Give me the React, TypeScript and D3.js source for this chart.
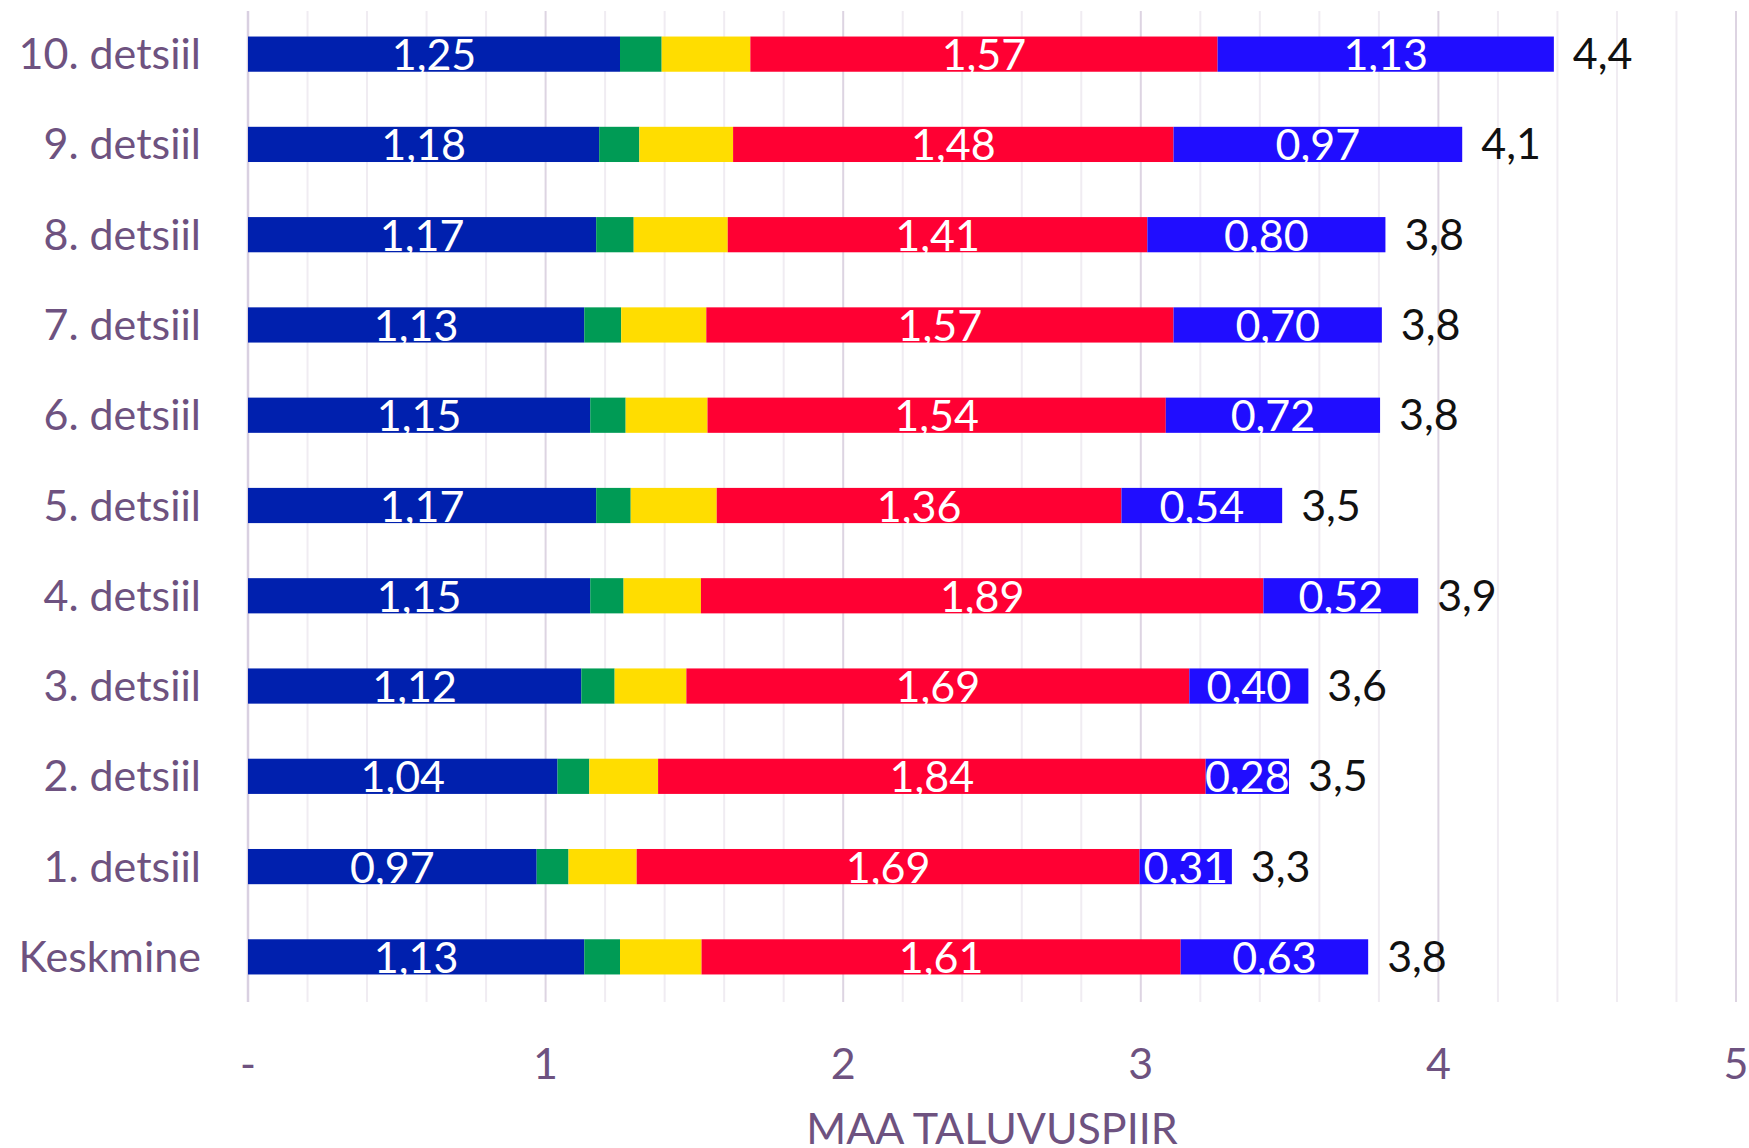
import * as d3 from "d3";

const width = 1749;
const height = 1148;
const margin = { top: 9, right: 13, bottom: 146, left: 248 };

const categories = [
  "10. detsiil",
  "9. detsiil",
  "8. detsiil",
  "7. detsiil",
  "6. detsiil",
  "5. detsiil",
  "4. detsiil",
  "3. detsiil",
  "2. detsiil",
  "1. detsiil",
  "Keskmine",
];
const darkBlue = [1.25, 1.18, 1.17, 1.13, 1.15, 1.17, 1.15, 1.12, 1.04, 0.97, 1.13];
const green = [0.14, 0.135, 0.126, 0.124, 0.119, 0.116, 0.112, 0.112, 0.107, 0.107, 0.12];
const yellow = [0.298, 0.315, 0.316, 0.286, 0.275, 0.289, 0.26, 0.241, 0.231, 0.229, 0.274];
const red = [1.57, 1.48, 1.41, 1.57, 1.54, 1.36, 1.89, 1.69, 1.84, 1.69, 1.61];
const blue = [1.13, 0.97, 0.8, 0.7, 0.72, 0.54, 0.52, 0.4, 0.28, 0.31, 0.63];
const totals = ["4,4", "4,1", "3,8", "3,8", "3,8", "3,5", "3,9", "3,6", "3,5", "3,3", "3,8"];
const xTicks = [0, 1, 2, 3, 4, 5];
const xTickLabels = ["-", "1", "2", "3", "4", "5"];

const series = [
  { key: "darkBlue", values: darkBlue, color: "#0020ae", label: true },
  { key: "green", values: green, color: "#009b55", label: false },
  { key: "yellow", values: yellow, color: "#ffdd00", label: false },
  { key: "red", values: red, color: "#ff0033", label: true },
  { key: "blue", values: blue, color: "#200dff", label: true },
];

const textColor = "#6e5280";
const font = "Lato, 'Open Sans', sans-serif";
const fmt = d3
  .formatLocale({ decimal: ",", thousands: " ", grouping: [3], currency: ["", ""] })
  .format(".2f");

const x = d3
  .scaleLinear()
  .domain([0, 5])
  .range([margin.left, width - margin.right]);
const y = d3
  .scaleBand()
  .domain(categories)
  .range([margin.top, height - margin.bottom]);
const barH = y.bandwidth() * 0.39;

const minor = d3.range(1, 26).map((i) => i * 0.2);

const rows = categories.map((c, i) => {
  let acc = 0;
  const segs = series.map((s) => {
    const x0 = acc;
    acc += s.values[i];
    return { ...s, x0, x1: acc, v: s.values[i] };
  });
  return { c, i, segs, end: acc };
});

const App = () => {
  return (
    <svg
      width={width}
      height={height}
      viewBox={`0 0 ${width} ${height}`}
      style={{ position: "absolute", left: 0, top: 0, fontFamily: font }}
    >
      <rect width={width} height={height} fill="#fff" />
      {/* gridlines */}
      {minor.map((d) => (
        <line
          key={d}
          x1={x(d)}
          x2={x(d)}
          y1={margin.top + 2}
          y2={height - margin.bottom}
          stroke={Math.abs(d - Math.round(d)) < 1e-6 ? "#ddd4e2" : "#f0ecf2"}
          strokeWidth={2}
        />
      ))}
      <line
        x1={x(0)}
        x2={x(0)}
        y1={margin.top + 2}
        y2={height - margin.bottom}
        stroke="#d9d0e1"
        strokeWidth={2.5}
      />

      {rows.map((r) => {
        const cy = (y(r.c) as number) + y.bandwidth() / 2;
        return (
          <g key={r.c}>
            {r.segs.map((d) => (
              <rect
                key={d.key}
                x={x(d.x0)}
                y={cy - barH / 2}
                width={x(d.x1) - x(d.x0)}
                height={barH}
                fill={d.color}
              />
            ))}
            {r.segs
              .filter((d) => d.label)
              .map((d) => (
                <text
                  key={d.key}
                  x={(x(d.x0) + x(d.x1)) / 2}
                  y={cy + 16}
                  textAnchor="middle"
                  fill="#fff"
                  fontSize={43}
                >
                  {fmt(d.v)}
                </text>
              ))}
            <text x={x(r.end) + 19} y={cy + 15} fill="#111" fontSize={43}>
              {totals[r.i]}
            </text>
            <text
              x={margin.left - 47}
              y={cy + 15}
              textAnchor="end"
              fill={textColor}
              fontSize={43}
            >
              {r.c}
            </text>
          </g>
        );
      })}

      {xTicks.map((d, i) => (
        <text
          key={d}
          x={x(d)}
          y={1079}
          textAnchor="middle"
          fill={textColor}
          fontSize={43}
        >
          {xTickLabels[i]}
        </text>
      ))}
      <text
        x={(x(0) + x(5)) / 2}
        y={1144}
        textAnchor="middle"
        fill={textColor}
        fontSize={43}
      >
        MAA TALUVUSPIIR
      </text>
    </svg>
  );
};

export default App;
